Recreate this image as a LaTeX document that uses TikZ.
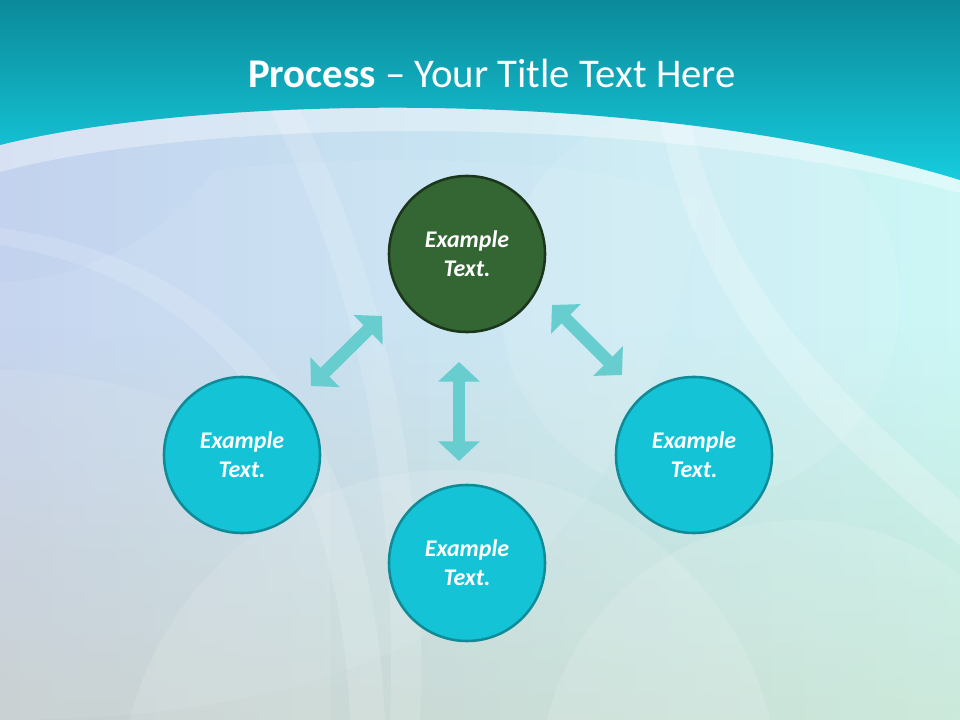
\documentclass[tikz,border=0pt]{standalone}
\usepackage{fontspec}
\setmainfont{Carlito}
\usetikzlibrary{arrows.meta,fadings}

\definecolor{bandtop}{HTML}{0B8A9A}
\definecolor{bandmid}{HTML}{12BACB}
\definecolor{bandlow}{HTML}{16CCDE}
\definecolor{bodyleft}{HTML}{C3D2EE}
\definecolor{bodymid}{HTML}{CAEEF4}
\definecolor{bodyright}{HTML}{CCF7F6}
\definecolor{greylow}{HTML}{C2CACC}
\definecolor{cyanlow}{HTML}{CBEDF1}
\definecolor{mintlow}{HTML}{C4E6D6}
\definecolor{discteal}{HTML}{14C3D6}
\definecolor{ringteal}{HTML}{0F8B98}
\definecolor{discgreen}{HTML}{346634}
\definecolor{ringgreen}{HTML}{1B361B}
\definecolor{arrowteal}{HTML}{68CDCF}

\begin{document}
\begin{tikzpicture}[x=0.025cm,y=-0.025cm,
    stage/.style={circle, draw=ringteal, fill=discteal, line width=1.8pt,
        minimum size=3.9cm, inner sep=0pt, text=white, align=center,
        font=\fontsize{17}{20.6}\selectfont\bfseries\itshape},
    hub/.style={stage, draw=ringgreen, fill=discgreen},
    swap/.style={draw=arrowteal, line width=9pt,
        {Triangle[width=29pt,length=14pt]}-{Triangle[width=29pt,length=14pt]}},
    veil/.style={fill=white, fill opacity=#1}, veil/.default=0.2]
    \useasboundingbox (0,0) rectangle (960,720);

    % Fondo
    \shade[left color=bodyleft, middle color=bodymid, right color=bodyright]
        (0,0) rectangle (960,720);
    \shade[left color=greylow, middle color=cyanlow, right color=mintlow, path fading=north]
        (0,330) rectangle (960,720);
    \begin{scope}
        \clip (0,0) rectangle (960,720);
        \fill[veil=0.08] (0,282) .. controls (90,280) and (170,230) .. (215,170)
            .. controls (400,150) and (600,160) .. (700,200)
            .. controls (650,500) and (500,720) .. (0,720) -- cycle;
        \fill[veil=0.14] (0,228) .. controls (170,250) and (370,360) .. (385,720)
            -- (350,720) .. controls (335,380) and (160,270) .. (0,245) -- cycle;
        \fill[veil=0.14] (300,110) .. controls (370,250) and (430,450) .. (420,720)
            -- (390,720) .. controls (400,450) and (340,250) .. (270,110) -- cycle;
        \fill[veil=0.22] (690,120) .. controls (730,300) and (850,400) .. (960,500)
            -- (960,545) .. controls (830,440) and (700,320) .. (660,120) -- cycle;
        \fill[veil=0.12] (450,800) circle (330);
        \fill[veil=0.12] (800,780) circle (260);
        \fill[veil=0.10] (700,300) circle (200);
        \fill[veil=0.08] (0,370) .. controls (120,370) and (240,420) .. (330,470)
            -- (330,720) -- (0,720) -- cycle;
    \end{scope}

    % Cabecera
    \fill[veil=0.35] (0,145) .. controls (200,95) and (650,85) .. (960,180)
        -- (960,193) .. controls (650,110) and (200,118) .. (0,172) -- cycle;
    \shade[top color=bandtop, middle color=bandmid, bottom color=bandlow]
        (0,0) -- (960,0) -- (960,180) .. controls (650,85) and (200,95) .. (0,145) -- cycle;
    \node[text=white, anchor=base, font=\fontsize{29}{35}\selectfont] (title) at (492,88)
        {\textbf{Process} -- Your Title Text Here};

    % Circulos
    \node[hub]   (c-top)    at (467,254) {Example\\Text.};
    \node[stage] (c-left)   at (242,455) {Example\\Text.};
    \node[stage] (c-bottom) at (467,563) {Example\\Text.};
    \node[stage] (c-right)  at (694,455) {Example\\Text.};

    % Flechas
    \coordinate (l-a) at (311,386);
    \coordinate (l-b) at (382,316);
    \coordinate (m-a) at (459,362);
    \coordinate (m-b) at (459,461);
    \coordinate (r-a) at (552,305);
    \coordinate (r-b) at (622,375);
    \draw[swap] (l-a) -- (l-b);
    \draw[swap] (m-a) -- (m-b);
    \draw[swap] (r-a) -- (r-b);
\end{tikzpicture}
\end{document}
